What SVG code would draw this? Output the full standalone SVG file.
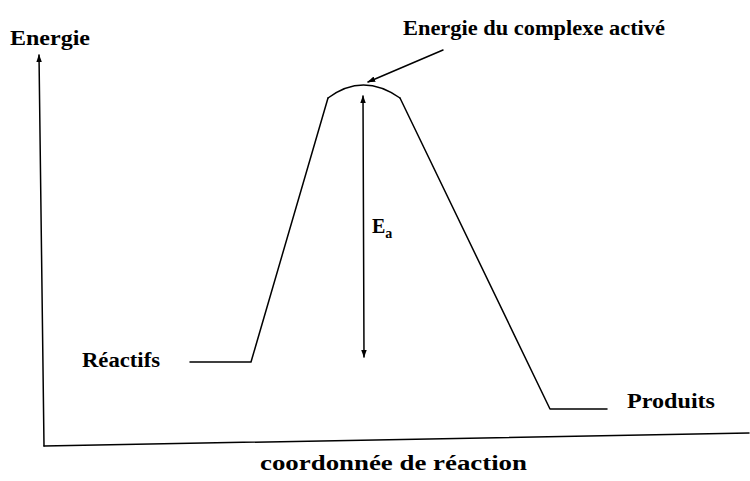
<svg xmlns="http://www.w3.org/2000/svg" width="750" height="481" viewBox="0 0 750 481">
<style>
text{font-weight:bold;font-size:20px;fill:#000}
.l{fill:none;stroke:#000;stroke-width:1.5;stroke-linecap:round;stroke-linejoin:round}
</style>
<defs>
<marker id="ah" viewBox="0 0 10 10" refX="9" refY="5" markerWidth="8" markerHeight="8" markerUnits="userSpaceOnUse" orient="auto-start-reverse">
<path d="M0,1.5 L10,5 L0,8.5 Z" fill="#000"/>
</marker>
</defs>
<rect width="750" height="481" fill="#fff"/>
<g id="connectors">
<path id="y-axis" class="l" d="M44,446 L39,55" marker-end="url(#ah)" stroke-width="2"/>
<path id="x-axis" class="l" d="M44,446 L749,433" stroke-width="2"/>
<path id="curve" class="l" d="M190,362 L251,362 L328,98 M400,98 L550,409 L607,409"/>
<path id="arc" class="l" d="M328,98 Q363,72 400,98" stroke-width="2.5"/>
<path id="ea-arrow" class="l" d="M363,96 L364,357" marker-start="url(#ah)" marker-end="url(#ah)"/>
<path id="label-arrow" class="l" d="M443,50 L368,82" marker-end="url(#ah)"/>
</g>
<g font-family="Liberation Serif, Times New Roman, serif">
<g id="energie-label"><text x="10" y="45" textLength="80" lengthAdjust="spacingAndGlyphs">Energie</text></g>
<g id="complexe-label"><text x="403" y="35" textLength="262" lengthAdjust="spacingAndGlyphs">Energie du complexe activé</text></g>
<g id="ea-label"><text x="372" y="233" font-size="23">E<tspan font-size="14" dy="5">a</tspan></text></g>
<g id="reactifs-label"><text x="82" y="367" textLength="78" lengthAdjust="spacingAndGlyphs">Réactifs</text></g>
<g id="produits-label"><text x="627" y="408" textLength="88" lengthAdjust="spacingAndGlyphs">Produits</text></g>
<g id="xaxis-label"><text x="260" y="470" textLength="267" lengthAdjust="spacingAndGlyphs">coordonnée de réaction</text></g>
</g>
</svg>
